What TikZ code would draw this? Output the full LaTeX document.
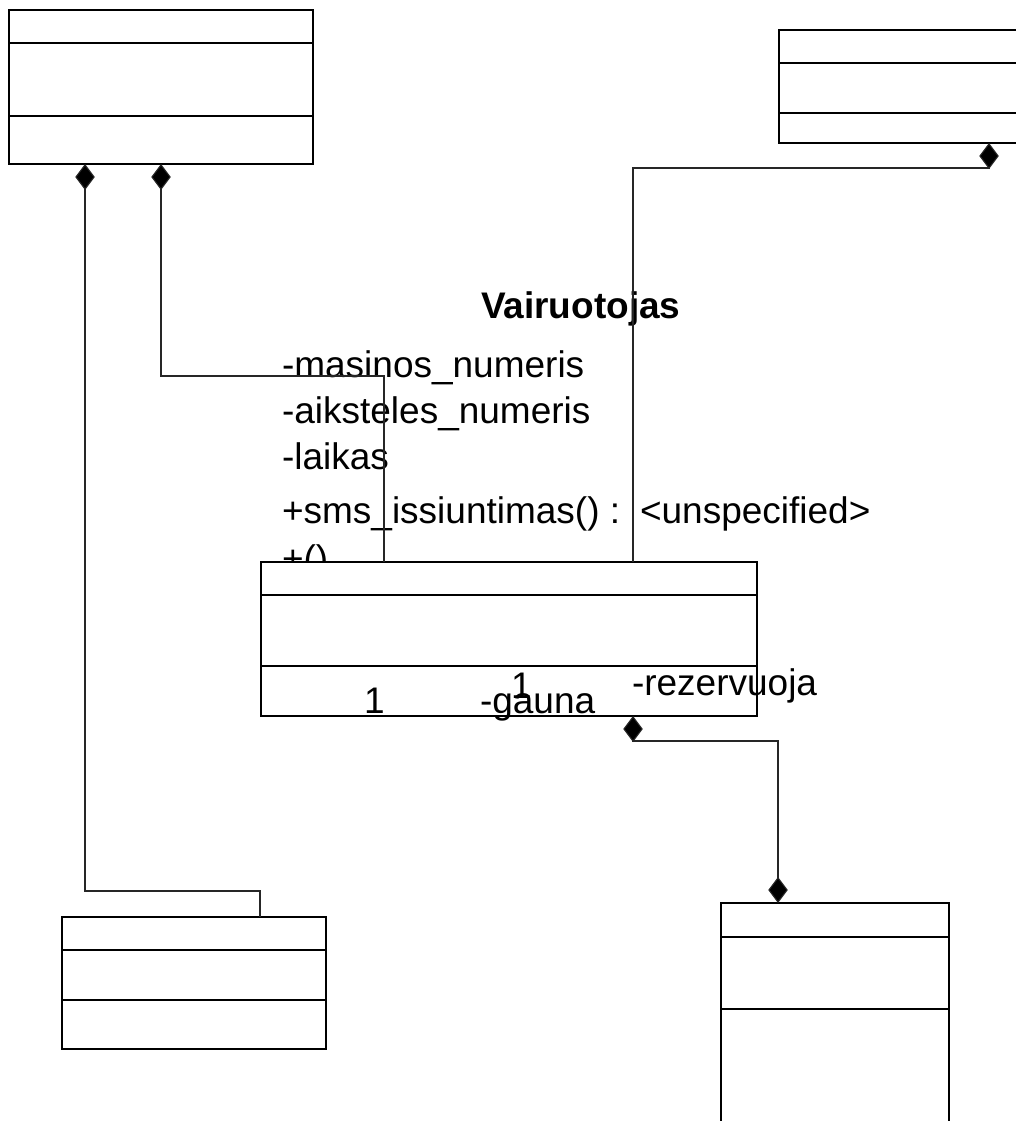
\documentclass[tikz,border=0pt]{standalone}
\usepackage{fontspec}
\setmainfont{Liberation Sans}
\usetikzlibrary{arrows.meta,calc}
\tikzset{
  classbox/.style={draw, line width=1.5pt, fill=white, inner sep=0pt, outer sep=0pt, anchor=north west},
  divider/.style={line width=1.5pt},
  comp/.style={line width=1.1pt, draw=black!85, {Diamond[length=26pt,width=19.5pt,fill=black]}-},
  compboth/.style={line width=1.1pt, draw=black!85, {Diamond[length=26pt,width=19.5pt,fill=black]}-{Diamond[length=26pt,width=19.5pt,fill=black]}},
  txt/.style={anchor=base west, inner sep=0pt, outer sep=0pt, font=\fontsize{37}{44}\selectfont},
}
\newcommand{\dividers}[3]{%
  \draw[divider] ($(#1.north west)+(0,#2)$) -- ($(#1.north east)+(0,#2)$);
  \draw[divider] ($(#1.north west)+(0,#3)$) -- ($(#1.north east)+(0,#3)$);
}
\begin{document}
\begin{tikzpicture}[x=1pt,y=-1pt]
\useasboundingbox (0,0) rectangle (1016,1121);
\clip (0,0) rectangle (1016,1121);

% class name and members of Vairuotojas
\node[txt, font=\fontsize{37}{44}\selectfont\bfseries] (name) at (481,318) {Vairuotojas};
\node[txt] (a1) at (282,377) {-masinos\_numeris};
\node[txt] (a2) at (282,423) {-aiksteles\_numeris};
\node[txt] (a3) at (282,469) {-laikas};
\node[txt] (m1) at (282,523) {+sms\_issiuntimas() : \,<unspecified>};
\node[txt] (m2) at (282,571) {+()};

% class boxes
\node[classbox, minimum width=304pt, minimum height=154pt] (A) at (9,10) {};
\node[classbox, minimum width=260pt, minimum height=113pt] (B) at (779,30) {};
\node[classbox, minimum width=496pt, minimum height=154pt] (C) at (261,562) {};
\node[classbox, minimum width=264pt, minimum height=132pt] (D) at (62,917) {};
\node[classbox, minimum width=228pt, minimum height=240pt] (E) at (721,903) {};

% composition connectors
\draw[comp] ([xshift=76pt]A.south west) -- ++(0,727) -| ([xshift=198pt]D.north west);
\draw[comp] ([xshift=152pt]A.south west) -- ++(0,212) -| ([xshift=123pt]C.north west);
\draw[comp] ([xshift=210pt]B.south west) -- ++(0,25) -| ([xshift=372pt]C.north west);
\draw[compboth] ([xshift=372pt]C.south west) -- ++(0,25) -| ([xshift=57pt]E.north west);

\dividers{A}{33}{106}
\dividers{B}{33}{83}
\dividers{C}{33}{104}
\dividers{D}{33}{83}
\dividers{E}{34}{106}

% role names and multiplicities
\node[txt] (r1) at (364,713) {1};
\node[txt] (r2) at (511,698) {1};
\node[txt] (r3) at (480,713) {-gauna};
\node[txt] (r4) at (632,695) {-rezervuoja};
\end{tikzpicture}
\end{document}
